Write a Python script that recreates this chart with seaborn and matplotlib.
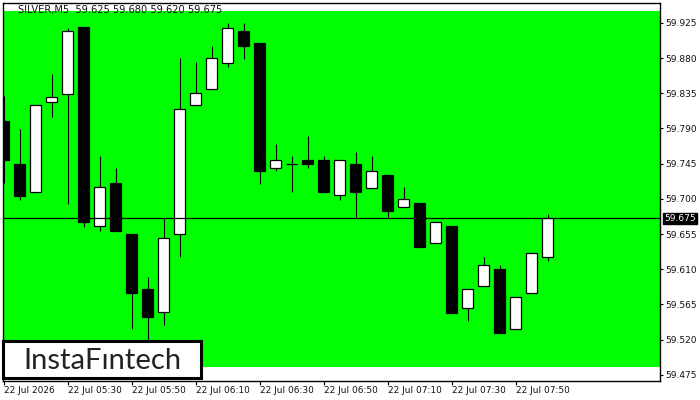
import matplotlib
matplotlib.use("Agg")
import matplotlib.pyplot as plt
import matplotlib.transforms as mtransforms
import seaborn as sns
import pandas as pd

# SILVER M5 candles
opens = [59.800, 59.745, 59.709, 59.824, 59.834, 59.920, 59.665, 59.720, 59.655, 59.585,
         59.555, 59.655, 59.820, 59.840, 59.874, 59.915, 59.899, 59.739, 59.744, 59.750,
         59.750, 59.705, 59.745, 59.714, 59.730, 59.689, 59.695, 59.644, 59.665, 59.560,
         59.589, 59.610, 59.534, 59.579, 59.625]
highs = [59.831, 59.789, 59.820, 59.860, 59.919, 59.920, 59.755, 59.739, 59.655, 59.600,
         59.675, 59.880, 59.875, 59.895, 59.925, 59.925, 59.899, 59.770, 59.755, 59.780,
         59.755, 59.749, 59.760, 59.755, 59.730, 59.715, 59.695, 59.670, 59.665, 59.585,
         59.625, 59.615, 59.575, 59.631, 59.680]
lows = [59.720, 59.699, 59.709, 59.804, 59.694, 59.664, 59.659, 59.659, 59.534, 59.515,
        59.539, 59.625, 59.820, 59.840, 59.869, 59.879, 59.719, 59.735, 59.709, 59.739,
        59.709, 59.699, 59.675, 59.714, 59.675, 59.689, 59.639, 59.644, 59.554, 59.544,
        59.589, 59.529, 59.534, 59.579, 59.620]
closes = [59.749, 59.704, 59.820, 59.830, 59.914, 59.670, 59.715, 59.659, 59.579, 59.549,
          59.650, 59.815, 59.835, 59.880, 59.919, 59.895, 59.735, 59.749, 59.744, 59.744,
          59.709, 59.749, 59.709, 59.736, 59.684, 59.700, 59.639, 59.670, 59.554, 59.585,
          59.615, 59.529, 59.575, 59.631, 59.675]

x_tick_pos = [0, 4, 8, 12, 16, 20, 24, 28, 32]
x_tick_labels = ["22 Jul 2026", "22 Jul 05:30", "22 Jul 05:50", "22 Jul 06:10", "22 Jul 06:30",
                 "22 Jul 06:50", "22 Jul 07:10", "22 Jul 07:30", "22 Jul 07:50"]
y_ticks = [59.925, 59.880, 59.835, 59.790, 59.745, 59.700, 59.655, 59.610, 59.565, 59.520, 59.475]
last_price = 59.675
title = "SILVER,M5  59.625 59.680 59.620 59.675"

df = pd.DataFrame({"open": opens, "high": highs, "low": lows, "close": closes})
df["idx"] = range(len(df))
df["up"] = df["close"] >= df["open"]

sns.set_theme(style="white")
plt.rcParams["font.family"] = ["DejaVu Sans"]

fig = plt.figure(figsize=(7, 4), dpi=100)
ax = fig.add_axes([2.5 / 700, 1 - 380.5 / 400, 657 / 700, 378 / 400])
ax.set_facecolor("white")

# green band
ax.axhspan(59.485, 59.9402, color="#00ff00", lw=0, zorder=0)

# wicks
ax.vlines(df["idx"], df["low"], df["high"], color="black", lw=0.8, zorder=2)

# bodies
w = 0.66
bottoms = df[["open", "close"]].min(axis=1)
heights = (df["close"] - df["open"]).abs()
face = ["white" if u else "black" for u in df["up"]]
ax.bar(df["idx"], heights, bottom=bottoms, width=w, color=face, edgecolor="black",
       linewidth=0.9, zorder=3)

# current price line
ax.axhline(last_price, color="black", lw=0.9, zorder=4)

ax.set_xlim(-0.0625, 41.0)
ax.set_ylim(59.4677, 59.951)

for s in ax.spines.values():
    s.set_color("black")
    s.set_linewidth(1.0)

ax.yaxis.tick_right()
ax.set_yticks(y_ticks)
ax.set_yticklabels([f"{v:.3f}" for v in y_ticks], fontsize=6.5, color="#111111")
ax.tick_params(axis="y", direction="out", length=2.5, width=0.8, pad=2, colors="black",
               right=True, left=False)
ax.set_xticks(x_tick_pos)
ax.set_xticklabels(x_tick_labels, fontsize=6.5, color="#111111")
for lbl in ax.get_xticklabels():
    lbl.set_horizontalalignment("left")
ax.tick_params(axis="x", direction="out", length=3, width=0.8, pad=1, colors="black",
               bottom=True)
for lbl in ax.get_yticklabels() + ax.get_xticklabels():
    lbl.set_color("#111111")

# price tag on the axis
trans = mtransforms.blended_transform_factory(ax.transAxes, ax.transData)
ax.text(1.0 + 4.5 / 657, last_price, f"{last_price:.3f}", transform=trans, fontsize=6.5,
        color="white", ha="left", va="center", zorder=10, clip_on=False,
        bbox=dict(boxstyle="square,pad=0.15", fc="black", ec="black"))

fig.text(18 / 700, 1 - 10 / 400, title, fontsize=7.1, color="#111111", ha="left", va="center")

# logo box
logo_ax = fig.add_axes([3 / 700, 1 - 378 / 400, 198 / 700, 37 / 400])
logo_ax.set_xticks([])
logo_ax.set_yticks([])
logo_ax.set_facecolor("white")
for s in logo_ax.spines.values():
    s.set_color("black")
    s.set_linewidth(2.2)
logo_ax.text(0.5, 0.47, "InstaF\u0131ntech", fontsize=21, color="#222222",
             ha="center", va="center", family="Lato", transform=logo_ax.transAxes)

fig.savefig("out.png", dpi=100)
